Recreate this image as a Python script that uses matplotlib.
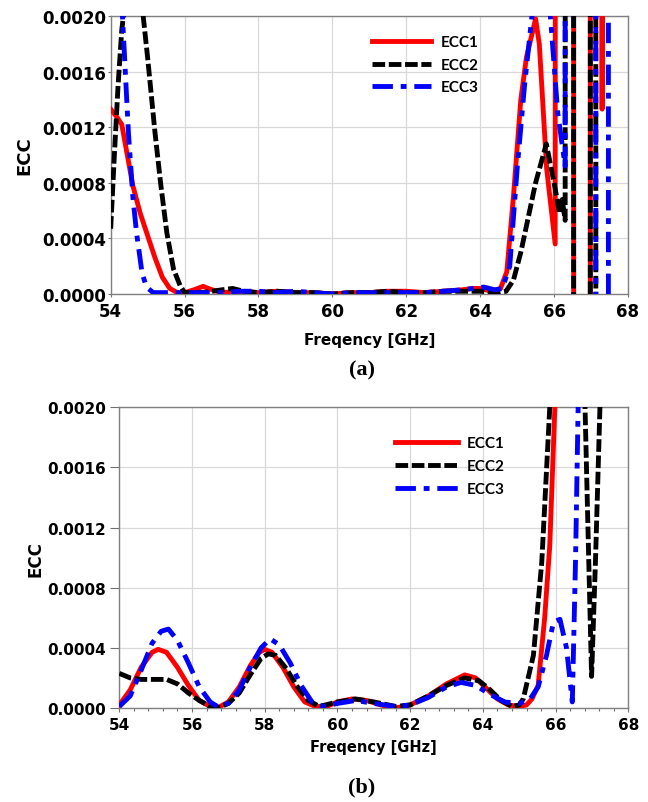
import matplotlib
matplotlib.use("Agg")
import matplotlib.pyplot as plt
from matplotlib.ticker import MultipleLocator, FormatStrFormatter

NaN = float("nan")  # gap marker between off-scale vertical strokes

# ---------------- data: panel (a) ----------------
fa_ecc1 = [54.0, 54.15, 54.3, 54.45, 54.6, 54.8, 55.0, 55.2, 55.4, 55.6, 55.8, 56.0, 56.25, 56.5,
           56.75, 57.0, 57.5, 58.0, 58.5, 59.0, 59.5, 60.0, 60.5, 61.0, 61.5, 62.0, 62.5, 63.0,
           63.5, 63.8, 64.0, 64.3, 64.55, 64.72, 64.9, 65.1, 65.25, 65.5, 65.6, 65.8, 66.03,
           66.1, 66.52, 66.53, 66.75, 66.98, 66.99, 67.29, 67.3, 67.31, 67.5]
va_ecc1 = [0.00133, 0.00128, 0.00122, 0.00100, 0.00078, 0.00058, 0.00042, 0.00026, 0.00012,
           0.00004, 0.00001, 0.00001, 0.00003, 0.000055, 0.00003, 0.00001, 0.00002, 0.00001,
           0.00002, 0.00001, 0.00001, 0.0, 0.00001, 0.00001, 0.00002, 0.00002, 0.00001,
           0.00002, 0.00003, 0.00004, 0.00004, 0.00002, 0.00004, 0.00016, 0.00070, 0.00140,
           0.00170, 0.00198, 0.00180, 0.00090, 0.00036,
           0.05, 0.05, 0.0, NaN, 0.0, 0.05, 0.05, 0.00133, 0.05, 0.05]

fa_ecc2 = [54.0, 54.1, 54.2, 54.3, 54.39, 54.6, 54.88, 55.0, 55.2, 55.35, 55.52, 55.7, 55.88,
           56.0, 56.5, 57.0, 57.3, 57.6, 58.0, 58.5, 59.0, 59.5, 60.0, 60.5, 61.0, 61.5, 62.0,
           62.5, 63.0, 63.5, 64.0, 64.5, 64.7, 64.9, 65.1, 65.3, 65.5, 65.79, 66.0, 66.15,
           66.22, 66.3, 66.33, 66.52, 66.53, 66.75, 66.98, 66.99, 67.12, 67.13]
va_ecc2 = [0.00047, 0.0010, 0.0015, 0.0019, 0.0021, 0.0030, 0.0020, 0.0017, 0.00116, 0.0008,
           0.00044, 0.00018, 0.00006, 0.00001, 0.00001, 0.00003, 0.00004, 0.00002, 0.00001,
           0.00002, 0.00001, 0.00001, 0.0, 0.00001, 0.00001, 0.00002, 0.00001, 0.00001,
           0.00002, 0.00002, 0.00002, 0.00001, 0.00002, 0.00010, 0.00030, 0.00055, 0.00080,
           0.00108, 0.00080, 0.00058, 0.00068, 0.00053,
           0.05, 0.05, 0.0, NaN, 0.0, 0.05, 0.05, 0.0]

fa_ecc3 = [54.0, 54.3, 54.48, 54.6, 54.7, 54.85, 54.97, 55.15, 55.5, 56.0, 56.5, 57.0, 57.5,
           58.0, 58.5, 59.0, 59.5, 60.0, 60.5, 61.0, 61.5, 62.0, 62.5, 63.0, 63.5, 63.8, 64.1,
           64.4, 64.6, 64.8, 65.0, 65.2, 65.4, 65.5, 65.7, 65.9, 66.1, 66.3,
           66.33, 67.12, 67.13, 67.3, 67.47, 67.48]
va_ecc3 = [0.004, 0.0021, 0.00116, 0.0007, 0.00044, 0.00015, 0.00005, 0.00001, 0.00001, 0.00001,
           0.00001, 0.00001, 0.00002, 0.00002, 0.00001, 0.00002, 0.00001, 0.0, 0.00001,
           0.00001, 0.00001, 0.00001, 0.00001, 0.00002, 0.00003, 0.00004, 0.00005, 0.00003,
           0.00004, 0.0002, 0.0009, 0.0015, 0.0020, 0.0025, 0.0025, 0.0020, 0.0013, 0.00092,
           0.05, 0.05, 0.0, NaN, 0.0, 0.05]

# ---------------- data: panel (b) ----------------
fb_ecc1 = [54.0, 54.3, 54.6, 54.9, 55.07, 55.3, 55.6, 55.9, 56.2, 56.5, 56.7, 57.0, 57.3, 57.6,
           57.85, 58.0, 58.2, 58.5, 58.8, 59.1, 59.4, 59.7, 60.0, 60.4, 60.8, 61.2, 61.6, 62.0,
           62.5, 63.0, 63.5, 63.8, 64.1, 64.4, 64.7, 65.0, 65.2, 65.35, 65.52, 65.7, 65.84,
           65.98, 66.1]
vb_ecc1 = [0.00002, 0.00012, 0.00027, 0.00037, 0.00039, 0.00037, 0.00027, 0.00015, 0.00005,
           0.00001, 0.0, 0.00004, 0.00014, 0.00028, 0.00037, 0.00039, 0.00037, 0.00027, 0.00014,
           0.00004, 0.00001, 0.00001, 0.00004, 0.00006, 0.00005, 0.00002, 0.0, 0.00002,
           0.00008, 0.00016, 0.00022, 0.00020, 0.00013, 0.00006, 0.00002, 0.00001, 0.00002,
           0.00006, 0.00015, 0.0006, 0.00108, 0.0020, 0.0030]

fb_ecc2 = [54.0, 54.3, 54.6, 55.0, 55.3, 55.6, 55.9, 56.2, 56.5, 56.7, 57.0, 57.3, 57.6, 57.9,
           58.1, 58.3, 58.6, 58.9, 59.2, 59.5, 60.0, 60.5, 61.0, 61.6, 62.0, 62.5, 63.0, 63.5,
           63.9, 64.2, 64.5, 64.8, 65.0, 65.11, 65.39, 65.62, 65.84, 65.95, 66.6, 66.81, 66.9,
           66.99, 67.1, 67.22, 67.3]
vb_ecc2 = [0.00023, 0.00020, 0.00019, 0.00019, 0.00019, 0.00016, 0.00010, 0.00005, 0.00001,
           0.0, 0.00003, 0.00010, 0.00022, 0.00033, 0.00036, 0.00035, 0.00026, 0.00014, 0.00005,
           0.00001, 0.00004, 0.00006, 0.00004, 0.00001, 0.00002, 0.00008, 0.00015, 0.00020,
           0.00018, 0.00012, 0.00005, 0.00001, 0.00002, 0.00006, 0.00035, 0.00097, 0.0020,
           0.0030, 0.0030, 0.0020, 0.0011, 0.00021, 0.0010, 0.0020, 0.0030]

fb_ecc3 = [54.0, 54.3, 54.6, 54.9, 55.15, 55.35, 55.6, 55.9, 56.2, 56.5, 56.7, 57.0, 57.3, 57.6,
           57.9, 58.15, 58.4, 58.7, 59.0, 59.3, 59.6, 60.0, 60.5, 61.0, 61.6, 62.0, 62.5, 63.0,
           63.4, 63.8, 64.2, 64.6, 65.0, 65.3, 65.52, 65.75, 65.94, 66.12, 66.3, 66.46, 66.55,
           66.62, 66.7]
vb_ecc3 = [0.00001, 0.00008, 0.00025, 0.00043, 0.00051, 0.000525, 0.00045, 0.00030, 0.00014,
           0.00004, 0.00001, 0.00003, 0.00012, 0.00027, 0.00040, 0.00046, 0.00042, 0.00030,
           0.00015, 0.00004, 0.00001, 0.00003, 0.00005, 0.00003, 0.00001, 0.00002, 0.00007,
           0.00014, 0.00017, 0.00015, 0.00009, 0.00004, 0.00003, 0.00006, 0.00014, 0.00035,
           0.00057, 0.00059, 0.00040, 0.00004, 0.0010, 0.0020, 0.0030]

labels = ["ECC1", "ECC2", "ECC3"]
colors = ["#ff0000", "#000000", "#0000ff"]
x_ticks = [54, 56, 58, 60, 62, 64, 66, 68]
y_ticks = [0.0, 0.0004, 0.0008, 0.0012, 0.0016, 0.0020]

fig = plt.figure(figsize=(6.48, 8.03), dpi=100)

LW = 3.5
dash2 = (2.6, 0.75)
dash3 = (4.2, 1.6, 1.2, 1.6)


def draw(ax, data, tick_size, ytick_len, ytick_pad, xtick_len, minor):
    (f1, v1), (f2, v2), (f3, v3) = data
    ax.plot(f1, v1, color=colors[0], lw=LW, label=labels[0], zorder=3)
    ax.plot(f2, v2, color=colors[1], lw=LW, dashes=dash2, label=labels[1], zorder=4)
    ax.plot(f3, v3, color=colors[2], lw=LW, dashes=dash3, label=labels[2], zorder=5)
    ax.set_xlim(54, 68)
    ax.set_ylim(0, 0.002)
    ax.set_xticks(x_ticks)
    ax.set_yticks(y_ticks)
    ax.yaxis.set_major_formatter(FormatStrFormatter("%.4f"))
    if minor:
        ax.xaxis.set_minor_locator(MultipleLocator(0.4))
        ax.tick_params(axis="x", which="minor", direction="out", length=2.5,
                       width=0.8, color="#707070")
    ax.grid(True, color="#d9d9d9", lw=0.9, zorder=0)
    ax.set_axisbelow(True)
    for s in ax.spines.values():
        s.set_color("#808080")
        s.set_linewidth(1.0)
    ax.tick_params(axis="y", which="major", direction="out", length=ytick_len,
                   pad=ytick_pad, width=0.8, color="#707070", labelsize=tick_size)
    ax.tick_params(axis="x", which="major", direction="out", length=xtick_len,
                   pad=3.6, width=0.8, color="#707070", labelsize=tick_size)
    for t in ax.get_xticklabels() + ax.get_yticklabels():
        t.set_fontweight("bold")
        t.set_fontfamily("DejaVu Sans")


# panel (a)
axa = fig.add_axes([0.1708, 0.6326, 0.7983, 0.3462])
draw(axa, [(fa_ecc1, va_ecc1), (fa_ecc2, va_ecc2), (fa_ecc3, va_ecc3)],
     12, 2.3, 0.8, 2.3, False)
axa.set_ylabel("ECC", fontsize=13, fontweight="bold", family="DejaVu Sans")
axa.yaxis.set_label_coords(-0.150, 0.5)
axa.set_xlabel("Freqency [GHz]", fontsize=11, fontweight="bold", family="DejaVu Sans")
axa.xaxis.set_label_coords(0.5, -0.135)
axa.legend(loc="upper left", bbox_to_anchor=(0.505, 0.93), frameon=False,
           borderpad=0, borderaxespad=0, handlelength=3.9, handletextpad=0.6,
           labelspacing=0.55, prop={"family": "Lato", "weight": "bold", "size": 11})

# panel (b)
axb = fig.add_axes([0.1841, 0.1171, 0.7855, 0.3744])
draw(axb, [(fb_ecc1, vb_ecc1), (fb_ecc2, vb_ecc2), (fb_ecc3, vb_ecc3)],
     11, 6.5, 3.0, 3.0, True)
axb.set_ylabel("ECC", fontsize=12, fontweight="bold", family="DejaVu Sans")
axb.yaxis.set_label_coords(-0.146, 0.5)
axb.set_xlabel("Freqency [GHz]", fontsize=10.5, fontweight="bold", family="DejaVu Sans")
axb.xaxis.set_label_coords(0.5, -0.104)
axb.legend(loc="upper left", bbox_to_anchor=(0.5417, 0.905), frameon=False,
           borderpad=0, borderaxespad=0, handlelength=4.1, handletextpad=0.6,
           labelspacing=0.6, prop={"family": "Lato", "weight": "bold", "size": 11})

fig.text(0.5586, 0.5392, "(a)", ha="center", va="center", fontsize=16,
         fontweight="bold", family="Liberation Serif")
fig.text(0.5586, 0.0199, "(b)", ha="center", va="center", fontsize=16,
         fontweight="bold", family="Liberation Serif")

fig.savefig("out.png", dpi=100)
